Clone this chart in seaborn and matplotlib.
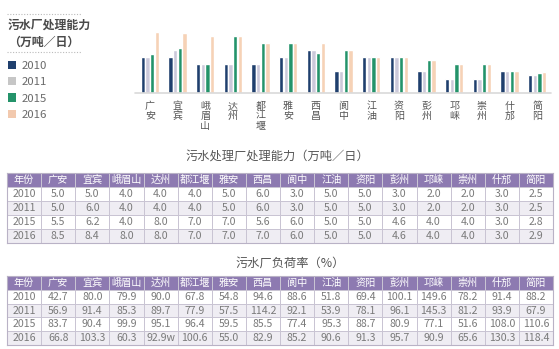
import numpy as np
import pandas as pd
import matplotlib
matplotlib.use("Agg")
import matplotlib.pyplot as plt
from matplotlib.colors import ListedColormap
from matplotlib.patches import Patch
from matplotlib.lines import Line2D
import seaborn as sns

sns.set_style("white")
plt.rcParams['font.family'] = ['Noto Sans CJK SC', 'DejaVu Sans']

# ---------------- data ----------------
cities = ["广安", "宜宾", "峨眉山", "达州", "都江堰", "雅安", "西昌", "阆中",
          "江油", "资阳", "彭州", "邛崃", "崇州", "什邡", "简阳"]
years = ["2010", "2011", "2015", "2016"]
cap_2010 = [5.0, 5.0, 4.0, 4.0, 4.0, 5.0, 6.0, 3.0, 5.0, 5.0, 3.0, 2.0, 2.0, 3.0, 2.5]
cap_2011 = [5.0, 6.0, 4.0, 4.0, 4.0, 5.0, 6.0, 3.0, 5.0, 5.0, 3.0, 2.0, 2.0, 3.0, 2.5]
cap_2015 = [5.5, 6.2, 4.0, 8.0, 7.0, 7.0, 5.6, 6.0, 5.0, 5.0, 4.6, 4.0, 4.0, 3.0, 2.8]
cap_2016 = [8.5, 8.4, 8.0, 8.0, 7.0, 7.0, 7.0, 6.0, 5.0, 5.0, 4.6, 4.0, 4.0, 3.0, 2.9]
load_2010 = ["42.7", "80.0", "79.9", "90.0", "67.8", "54.8", "94.6", "88.6", "51.8", "69.4", "100.1", "149.6", "78.2", "91.4", "88.2"]
load_2011 = ["56.9", "91.4", "85.3", "89.7", "77.9", "57.5", "114.2", "92.1", "53.9", "78.1", "96.1", "145.3", "81.2", "93.9", "67.9"]
load_2015 = ["83.7", "90.4", "99.9", "95.1", "96.4", "59.5", "85.5", "77.4", "95.3", "88.7", "80.9", "77.1", "51.6", "108.0", "110.6"]
load_2016 = ["66.8", "103.3", "60.3", "92.9w", "100.6", "55.0", "82.9", "85.2", "90.6", "91.3", "95.7", "90.9", "65.6", "130.3", "118.4"]

legend_title = "污水厂处理能力\n（万吨／日）"
table1_title = "污水处理厂处理能力（万吨／日）"
table2_title = "污水厂负荷率（%）"
year_header = "年份"

palette = ["#1f3f6d", "#cbc9da", "#24936a", "#f6d2b6"]
legend_colors = ["#1f3f6d", "#c6c6c6", "#24936a", "#f2c9ae"]

W, H = 559, 349
fig = plt.figure(figsize=(W / 100, H / 100), dpi=100)
fig.patch.set_facecolor("white")


def px(x0, y0, x1, y1):
    return [x0 / W, 1 - y1 / H, (x1 - x0) / W, (y1 - y0) / H]


# ---------------- bar chart ----------------
caps = [cap_2010, cap_2011, cap_2015, cap_2016]
df = pd.DataFrame({
    "city": np.repeat([cities], 4, axis=0).ravel(),
    "year": np.repeat(years, len(cities)),
    "value": np.concatenate(caps),
})
ax = fig.add_axes(px(136, 28.4, 551, 93))
sns.barplot(data=df, x="city", y="value", hue="year", order=cities,
            hue_order=years, palette=palette, width=0.68, gap=0.06,
            ax=ax, legend=False, saturation=1)
ax.set_ylim(0, 9)
ax.set_xlim(-0.5, len(cities) - 0.5)
ax.set_xlabel("")
ax.set_ylabel("")
ax.set_yticks([])
ax.set_xticks(range(len(cities)))
ax.set_xticklabels(["\n".join(c) for c in cities], fontsize=7.2,
                   color="#555555", linespacing=0.95, va="top")
ax.tick_params(axis="x", length=0, pad=6)
for s in ax.spines.values():
    s.set_visible(False)
ax.axhline(0, color="#d9d9d9", lw=1.2, xmin=-0.003, xmax=1, clip_on=False)
ax.patch.set_alpha(0)

# ---------------- legend ----------------
for yy in (14, 52):
    fig.add_artist(Line2D([7 / W, 82 / W], [1 - yy / H, 1 - yy / H],
                          color="#bbbbbb", lw=0.8, ls=(0, (1, 1.5))))
fig.text(8 / W, 1 - 34 / H, legend_title, ha="left", va="center",
         fontsize=8.6, color="#4a4a4a", fontweight="bold", linespacing=1.45)
handles = [Patch(facecolor=c, edgecolor="none") for c in legend_colors]
fig.legend(handles, years, loc="upper left",
           bbox_to_anchor=(3 / W, 1 - 56 / H), frameon=False, fontsize=8.2,
           handlelength=0.75, handleheight=0.75, handletextpad=0.5,
           labelspacing=0.55, labelcolor="#6a6a6a", borderaxespad=0)


# ---------------- tables ----------------
def draw_table(rect, rows_vals):
    tax = fig.add_axes(rect)
    annot = [[year_header] + cities]
    codes = [[2] * (len(cities) + 1)]
    for i, (yr, vals) in enumerate(zip(years, rows_vals)):
        annot.append([yr] + list(vals))
        codes.append([i % 2] * (len(cities) + 1))
    annot = np.array(annot, dtype=object)
    codes = np.array(codes, dtype=float)
    sns.heatmap(codes, ax=tax, cmap=ListedColormap(["#ffffff", "#efedf3", "#8d7ab1"]),
                vmin=-0.5, vmax=2.5, cbar=False, annot=annot, fmt="",
                linewidths=0.7, linecolor="#c9c4d3",
                xticklabels=False, yticklabels=False,
                annot_kws={"fontsize": 7.6})
    for t in tax.texts:
        if t.get_position()[1] < 1:
            t.set_color("white")
            t.set_fontsize(7.3)
        else:
            t.set_color("#7a7a7a")
    for s in tax.spines.values():
        s.set_visible(True)
        s.set_color("#b9b2c6")
        s.set_linewidth(0.8)
    return tax


draw_table(px(7, 173, 553, 243), [[f"{v:.1f}" for v in c] for c in caps])
draw_table(px(7, 276, 553, 345), [load_2010, load_2011, load_2015, load_2016])

fig.text(277 / W, 1 - 157 / H, table1_title, ha="center", va="center",
         fontsize=8.8, color="#555555")
fig.text(290 / W, 1 - 263 / H, table2_title, ha="center", va="center",
         fontsize=8.8, color="#555555")

fig.savefig("out.png", dpi=100, facecolor="white")
